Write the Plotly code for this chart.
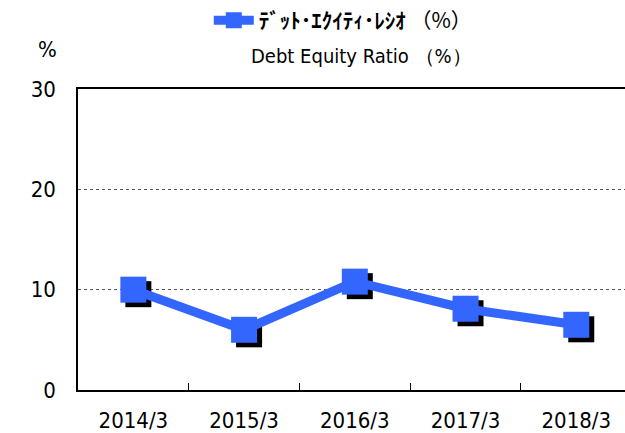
import plotly.graph_objects as go

years = ["2014/3", "2015/3", "2016/3", "2017/3", "2018/3"]
de_ratio = [10.0, 6.0, 10.8, 8.1, 6.5]
y_ticks = [0, 10, 20, 30]

blue = "#3366FF"
narrow = "DejaVu Sans Condensed, Liberation Sans Narrow, Arial Narrow, sans-serif"
jp = "Noto Sans CJK JP, DejaVu Sans Condensed, sans-serif"

# last category is partly cut by the right edge in the original
x_range = [-0.5, 4.44]
y_range = [0, 30]

fig = go.Figure()

# shadow squares on hidden axes, shifted a few pixels right/down
fig.add_trace(go.Scatter(
    x=years, y=de_ratio, mode="markers",
    marker=dict(symbol="square", size=26, color="black"),
    showlegend=False, hoverinfo="skip",
    xaxis="x", yaxis="y"
))

fig.add_trace(go.Scatter(
    x=years, y=de_ratio, mode="lines+markers",
    name="<b>ﾃﾞｯﾄ･ｴｸｲﾃｨ･ﾚｼｵ</b> （%）",
    line=dict(color=blue, width=9),
    marker=dict(symbol="square", size=26, color=blue),
    xaxis="x2", yaxis="y2"
))

fig.update_layout(
    width=625, height=433,
    margin=dict(l=78, r=0, t=89, b=43, autoexpand=False),
    plot_bgcolor="white", paper_bgcolor="white",
    font=dict(family=narrow, size=22, color="black"),
    xaxis=dict(type="category", range=[x_range[0] - 0.045, x_range[1] - 0.045],
               visible=False),
    yaxis=dict(range=[y_range[0] + 0.45, y_range[1] + 0.45], visible=False),
    xaxis2=dict(
        type="category", overlaying="x", range=x_range,
        showline=True, linecolor="black", linewidth=1.5, mirror=True,
        ticks="inside", tickson="boundaries", ticklen=7, tickcolor="black",
        showgrid=False, ticklabelstandoff=10,
        tickfont=dict(family=narrow, size=22),
    ),
    yaxis2=dict(
        overlaying="y", range=y_range, tickvals=y_ticks,
        showline=True, linecolor="black", linewidth=1.5,
        showgrid=True, gridcolor="#555555", griddash="dot", gridwidth=1,
        zeroline=False, ticks="", ticklabelstandoff=16,
        tickfont=dict(family=narrow, size=22),
    ),
    legend=dict(
        orientation="h", x=0.485, xanchor="center", y=1.0, yanchor="top",
        yref="container", font=dict(family=jp, size=21),
        bgcolor="rgba(0,0,0,0)", itemwidth=40,
    ),
)

# place the two free texts by pixel position
pw = 625 - 78
ph = 433 - 89 - 43
fig.add_annotation(text="Debt Equity Ratio （%）", xref="paper", yref="paper",
                   x=(362 - 78) / pw, y=(433 - 43 - 56) / ph,
                   xanchor="center", yanchor="middle", showarrow=False,
                   font=dict(family=narrow, size=20))
fig.add_annotation(text="%", xref="paper", yref="paper",
                   x=(47 - 78) / pw, y=(433 - 43 - 50) / ph,
                   xanchor="center", yanchor="middle", showarrow=False,
                   font=dict(family=narrow, size=22))

fig.write_html("out.html", config={"displayModeBar": False},
               post_script="document.body.style.margin='0';")
